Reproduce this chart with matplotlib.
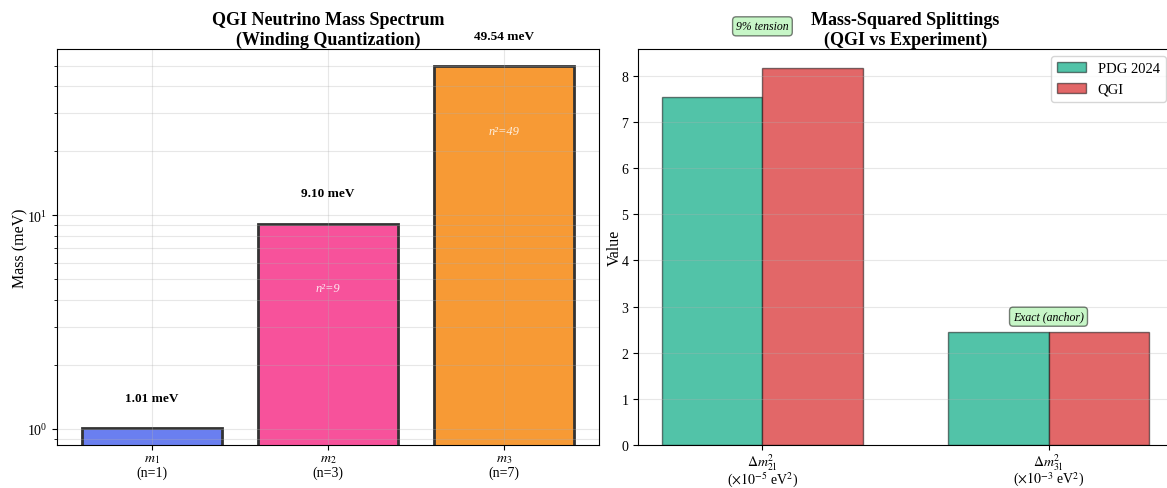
import matplotlib.pyplot as plt
import numpy as np

plt.rcParams['font.family'] = ['Liberation Serif', 'DejaVu Serif']
plt.rcParams['mathtext.fontset'] = 'stix'

# left panel: neutrino masses
mass_labels = ['$m_1$\n(n=1)', '$m_2$\n(n=3)', '$m_3$\n(n=7)']
windings = [1, 3, 7]
masses = [1.01, 9.10, 49.54]
mass_colors = ['#6a7ff0', '#f7529b', '#f79a35']

# right panel: splittings
split_labels = ['$\\Delta m^2_{21}$\n($\\times10^{-5}$ eV$^2$)',
                '$\\Delta m^2_{31}$\n($\\times10^{-3}$ eV$^2$)']
pdg = [7.53, 2.453]
qgi = [8.17, 2.453]
notes = ['9% tension', 'Exact (anchor)']
note_y = [9.07, 2.78]

fig = plt.figure(figsize=(11.67, 4.89), dpi=100)
ax1 = fig.add_axes([0.0488, 0.0879, 0.4644, 0.8098])
ax2 = fig.add_axes([0.5467, 0.0879, 0.4584, 0.8098])

x = np.arange(len(masses))
ax1.bar(x, masses, width=0.8, color=mass_colors, edgecolor='#333333', linewidth=2)
ax1.set_yscale('log')
ax1.set_ylim(0.842, 59.7)
for xi, m, n in zip(x, masses, windings):
    ax1.text(xi, m * 1.3, f'{m:.2f} meV', ha='center', va='bottom',
             fontsize=9.5, fontweight='bold')
    if n > 1:
        ax1.text(xi, m * 0.5, f'n²={n*n}', ha='center', va='center',
                 fontsize=9, fontstyle='italic', color='white', alpha=0.85)
ax1.set_xticks(x)
ax1.set_xticklabels(mass_labels, fontsize=10.5, linespacing=1.1)
ax1.set_ylabel('Mass (meV)', fontsize=11.5, labelpad=-1)
ax1.set_title('QGI Neutrino Mass Spectrum\n(Winding Quantization)',
              fontsize=13, fontweight='bold', linespacing=1.2, pad=4)
ax1.grid(True, which='both', alpha=0.3)
ax1.tick_params(labelsize=10)
ax1.tick_params(axis='x', pad=1.5)

w = 0.35
x2 = np.arange(len(pdg))
ax2.bar(x2 - w / 2, pdg, w, label='PDG 2024', color='#52c3a8',
        edgecolor=(0, 0, 0, 0.5), linewidth=1)
ax2.bar(x2 + w / 2, qgi, w, label='QGI', color='#e26768',
        edgecolor=(0, 0, 0, 0.5), linewidth=1)
for xi, note, ny in zip(x2, notes, note_y):
    ax2.text(xi, ny, note, ha='center', va='center', fontsize=8.5,
             fontstyle='italic',
             bbox=dict(boxstyle='round,pad=0.3', facecolor='lightgreen', alpha=0.5))
ax2.set_xticks(x2)
ax2.set_xticklabels(split_labels, fontsize=10, linespacing=0.85)
ax2.set_ylabel('Value', fontsize=11.5, labelpad=-1)
ax2.set_title('Mass-Squared Splittings\n(QGI vs Experiment)',
              fontsize=13, fontweight='bold', linespacing=1.2, pad=4)
ax2.legend(fontsize=10.5, loc='upper right')
ax2.grid(True, axis='y', alpha=0.3)
ax2.tick_params(labelsize=10)
ax2.tick_params(axis='x', pad=1)

fig.savefig('out.png', dpi=100)
